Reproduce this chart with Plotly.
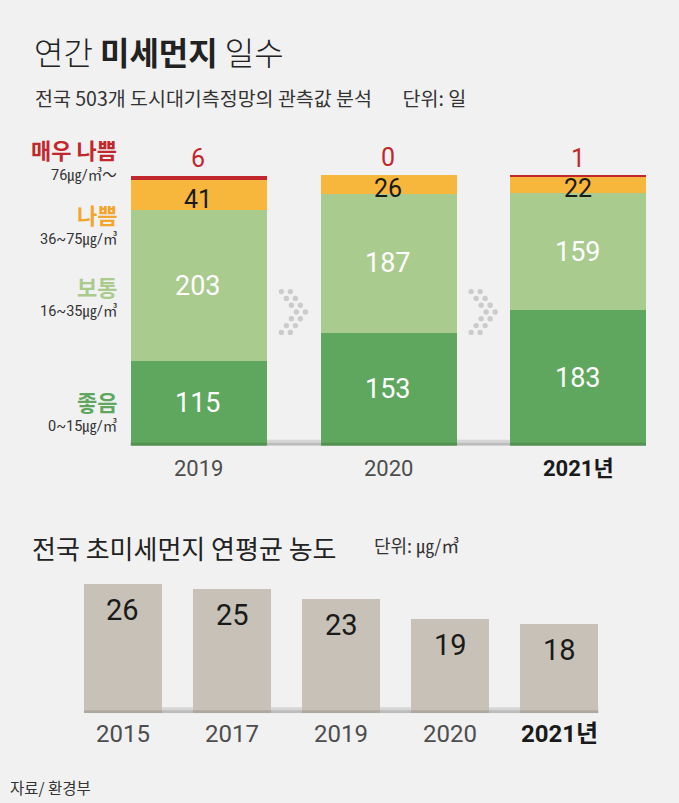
import plotly.graph_objects as go

# ---------------- data ----------------
years_top = ["2019", "2020", "2021년"]
good = [115, 153, 183]          # 좋음
normal = [203, 187, 159]        # 보통
bad = [41, 26, 22]              # 나쁨
very_bad = [6, 0, 1]            # 매우 나쁨

years_bottom = ["2015", "2017", "2019", "2020", "2021년"]
pm25 = [26, 25, 23, 19, 18]

W, H = 679, 803
def px(x): return x / W
def py(y): return 1 - y / H

KR = "Noto Sans CJK KR, Noto Sans, sans-serif"
NUM = "Liberation Sans Narrow, Roboto, Noto Sans CJK KR, sans-serif"

C_RED = "#c1272d"
C_ORANGE = "#f6b73c"
C_LGREEN = "#a9cb8d"
C_DGREEN = "#5fa75e"
C_BG = "#f1f1f1"
C_TAUPE = "#c7c1b7"

fig = go.Figure()

# ---------------- top stacked chart ----------------
for name, vals, col in [("좋음", good, C_DGREEN), ("보통", normal, C_LGREEN),
                        ("나쁨", bad, C_ORANGE), ("매우 나쁨", very_bad, C_RED)]:
    fig.add_trace(go.Bar(x=years_top, y=vals, name=name, marker=dict(color=col, line=dict(width=0)),
                         width=0.717, xaxis="x", yaxis="y", hoverinfo="skip", showlegend=False))

anns = []
for i, cat in enumerate(years_top):
    base = 0
    for vals, col, size, shift in [(good, "white", 27, 0), (normal, "white", 27, 0), (bad, "#1a1a1a", 25, -4)]:
        v = vals[i]
        anns.append(dict(x=i, y=base + v / 2, xref="x", yref="y", text=str(v), showarrow=False,
                         yanchor="middle", yshift=shift, font=dict(family=NUM, size=size, color=col)))
        base += v
    total = base + very_bad[i]
    anns.append(dict(x=i, y=total, xref="x", yref="y", text=str(very_bad[i]), showarrow=False,
                     yanchor="bottom", yshift=1, font=dict(family=NUM, size=25, color=C_RED)))
    last = i == len(years_top) - 1
    anns.append(dict(x=i, y=py(468), xref="x", yref="paper", yanchor="middle",
                     text=("<b>%s</b>" % cat) if last else cat,
                     showarrow=False, font=dict(family=NUM, size=22, color="#1a1a1a" if last else "#4d4d4d")))

# ---------------- bottom chart ----------------
fig.add_trace(go.Bar(x=years_bottom, y=pm25, marker=dict(color=C_TAUPE, line=dict(width=0)),
                     width=0.715, xaxis="x2", yaxis="y2", hoverinfo="skip", showlegend=False))
for i, (cat, v) in enumerate(zip(years_bottom, pm25)):
    anns.append(dict(x=i, y=v, xref="x2", yref="y2", text=str(v), showarrow=False,
                     yanchor="top", yshift=-7, font=dict(family=NUM, size=29, color="#1a1a1a")))
    last = i == len(years_bottom) - 1
    anns.append(dict(x=i, y=py(734), xref="x2", yref="paper", yanchor="middle",
                     text=("<b>%s</b>" % cat) if last else cat,
                     showarrow=False, font=dict(family=NUM, size=24, color="#1a1a1a" if last else "#4d4d4d")))

# ---------------- titles & labels ----------------
def pa(x, y, text, size, color="#222", family=KR, xanchor="left", weight=None):
    f = dict(family=family, size=size, color=color)
    if weight is not None:
        f["weight"] = weight
    return dict(x=px(x), y=py(y), xref="paper", yref="paper", xanchor=xanchor, yanchor="middle",
                showarrow=False, text=text, font=f)

anns += [
    pa(32, 51, "연간 <b>미세먼지</b> 일수", 32, "#222", weight=300),
    pa(33, 97, "전국 503개 도시대기측정망의 관측값 분석       단위: 일", 19.5, "#333"),
    pa(30, 547, "전국 초미세먼지 연평균 농도", 26, "#222"),
    pa(372, 545, "단위: ㎍/㎥", 18, "#333"),
    pa(8, 787, "자료/ 환경부", 15.5, "#333"),
]
legend_labels = [("매우 나쁨", C_RED, 149, "76㎍/㎥～", 175),
                 ("나쁨", "#f2a62c", 214, "36~75㎍/㎥", 239),
                 ("보통", C_LGREEN, 286, "16~35㎍/㎥", 311),
                 ("좋음", C_DGREEN, 401, "0~15㎍/㎥", 426)]
for name, col, y1, rng, y2 in legend_labels:
    anns.append(pa(119, y1, "<b>" + name + "</b>", 22, col, xanchor="right"))
    anns.append(pa(119, y2, rng, 14.5, "#333", family=NUM, xanchor="right"))

# ---------------- decorations ----------------
shapes = []
for xr, yr, half, n in [("x", "y", 0.3585, len(years_top)), ("x2", "y2", 0.3575, len(years_bottom))]:
    shapes.append(dict(type="rect", xref=xr, yref=yr, x0=-half, x1=n - 1 + half, ysizemode="pixel",
                       yanchor=0, y0=0, y1=6, fillcolor="#d6d6d6", line=dict(width=0), layer="below"))
    shapes.append(dict(type="rect", xref=xr, yref=yr, x0=-half, x1=n - 1 + half, ysizemode="pixel",
                       yanchor=0, y0=0, y1=3, fillcolor="rgba(0,0,0,0.12)", line=dict(width=0), layer="above"))
for i in range(len(years_top) - 1):
    for k in range(-3, 4):
        xl = -12 + (3 - abs(k)) * 5
        for dx in (xl, xl + 9):
            r = 2.7
            shapes.append(dict(type="circle", xref="x", yref="paper", xsizemode="pixel", ysizemode="pixel",
                               xanchor=i + 0.5, yanchor=py(312), x0=dx - r, x1=dx + r,
                               y0=-k * 6.8 - r, y1=-k * 6.8 + r, fillcolor="#cbcbcb", line=dict(width=0)))

fig.update_layout(
    width=W, height=H, autosize=False, margin=dict(l=0, r=0, t=0, b=0),
    paper_bgcolor=C_BG, plot_bgcolor=C_BG, barmode="stack", bargap=0,
    xaxis=dict(type="category", domain=[px(103.6), px(672.9)], range=[-0.5, 2.5], showticklabels=False,
               showgrid=False, zeroline=False, showline=False, fixedrange=True),
    yaxis=dict(domain=[py(445.7), py(140)], range=[0, 413.3], visible=False, fixedrange=True),
    xaxis2=dict(type="category", domain=[px(68.45), px(613.85)], range=[-0.5, 4.5], showticklabels=False,
                showgrid=False, zeroline=False, showline=False, fixedrange=True, anchor="y2"),
    yaxis2=dict(domain=[py(713.3), py(560)], range=[0, 30.78], visible=False, fixedrange=True, anchor="x2"),
    annotations=anns, shapes=shapes,
)

fig.write_html("out.html", config={"displayModeBar": False},
               post_script="document.body.style.margin='0';document.body.style.background='%s';" % C_BG)
